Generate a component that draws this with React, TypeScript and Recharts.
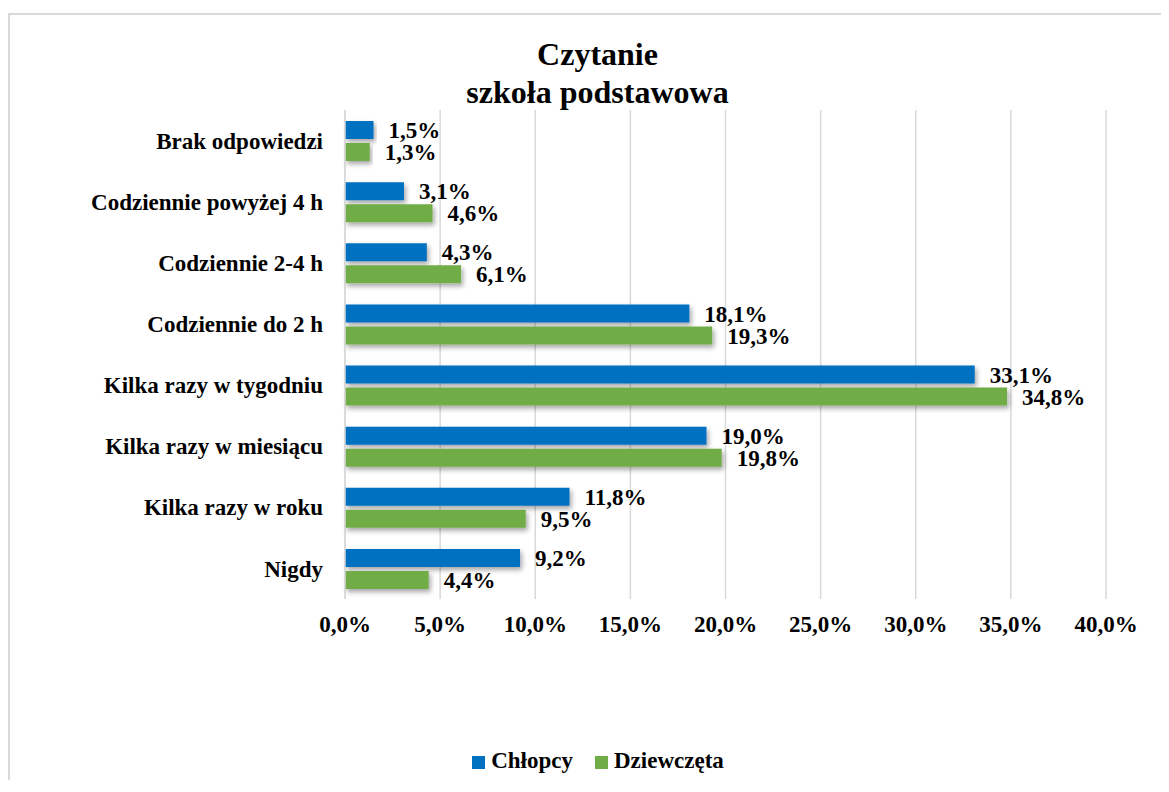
import React from 'react'
import { BarChart, Bar, XAxis, YAxis, CartesianGrid, Legend, LabelList } from 'recharts'

const categories = [
  'Brak odpowiedzi',
  'Codziennie powyżej 4 h',
  'Codziennie 2-4 h',
  'Codziennie do 2 h',
  'Kilka razy w tygodniu',
  'Kilka razy w miesiącu',
  'Kilka razy w roku',
  'Nigdy ',
]
const chlopcy = [1.5, 3.1, 4.3, 18.1, 33.1, 19.0, 11.8, 9.2]
const dziewczeta = [1.3, 4.6, 6.1, 19.3, 34.8, 19.8, 9.5, 4.4]
const xTicks = [0, 5, 10, 15, 20, 25, 30, 35, 40]

const data = categories.map((name, i) => ({ name, chlopcy: chlopcy[i], dziewczeta: dziewczeta[i] }))

const FONT = '"Liberation Serif", "Times New Roman", serif'
const fmt = (v: number) => v.toFixed(1).replace('.', ',') + '%'
const textStyle = { fill: '#000', fontSize: 23, fontWeight: 'bold', fontFamily: FONT }

export default function App() {
  return (
    <div style={{ position: 'relative', top: 5, width: 1153, height: 770, borderTop: '2px solid #d9d9d9', borderLeft: '2px solid #d9d9d9', fontFamily: FONT }}>
      <svg width={0} height={0} style={{ position: 'absolute' }}>
        <defs>
          <filter id="barShadow" x="-5%" y="-30%" width="115%" height="190%">
            <feDropShadow dx={2} dy={3} stdDeviation={2.5} floodColor="#000" floodOpacity={0.35} />
          </filter>
        </defs>
      </svg>
      {/* two-line title */}
      <div style={{ position: 'absolute', left: 0, width: 1175, top: 20, textAlign: 'center', fontWeight: 'bold', fontSize: 32, lineHeight: '38px', color: '#000' }}>
        <div>Czytanie</div>
        <div>szkoła podstawowa</div>
      </div>
      <BarChart
        layout="vertical"
        width={1153}
        height={770}
        data={data}
        margin={{ top: 95, right: 57, left: 0, bottom: 110 }}
        barSize={18}
        barGap={4}
      >
        <CartesianGrid horizontal={false} stroke="#d9d9d9" strokeWidth={1.5} />
        <XAxis
          type="number"
          domain={[0, 40]}
          ticks={xTicks}
          tickFormatter={fmt}
          axisLine={false}
          tickLine={false}
          height={50}
          tick={textStyle}
          tickMargin={11}
        />
        <YAxis
          type="category"
          dataKey="name"
          width={335}
          axisLine={{ stroke: '#d9d9d9', strokeWidth: 1.5 }}
          tickLine={false}
          tick={textStyle}
          tickMargin={16}
          interval={0}
        />
        <Legend
          verticalAlign="bottom"
          iconType="square"
          iconSize={13}
          wrapperStyle={{ fontFamily: FONT, fontWeight: 'bold', fontSize: 23, bottom: 11, left: 0, width: 1198 }}
          formatter={(value: string) => <span style={{ color: '#000', marginLeft: 2, marginRight: 12 }}>{value}</span>}
        />
        <Bar dataKey="chlopcy" name="Chłopcy" fill="#0070c0" isAnimationActive={false} style={{ filter: 'url(#barShadow)' }}>
          <LabelList dataKey="chlopcy" position="right" offset={15} formatter={(v: any) => fmt(Number(v))} style={textStyle} />
        </Bar>
        <Bar dataKey="dziewczeta" name="Dziewczęta" fill="#70ad47" isAnimationActive={false} style={{ filter: 'url(#barShadow)' }}>
          <LabelList dataKey="dziewczeta" position="right" offset={15} formatter={(v: any) => fmt(Number(v))} style={textStyle} />
        </Bar>
      </BarChart>
    </div>
  )
}
